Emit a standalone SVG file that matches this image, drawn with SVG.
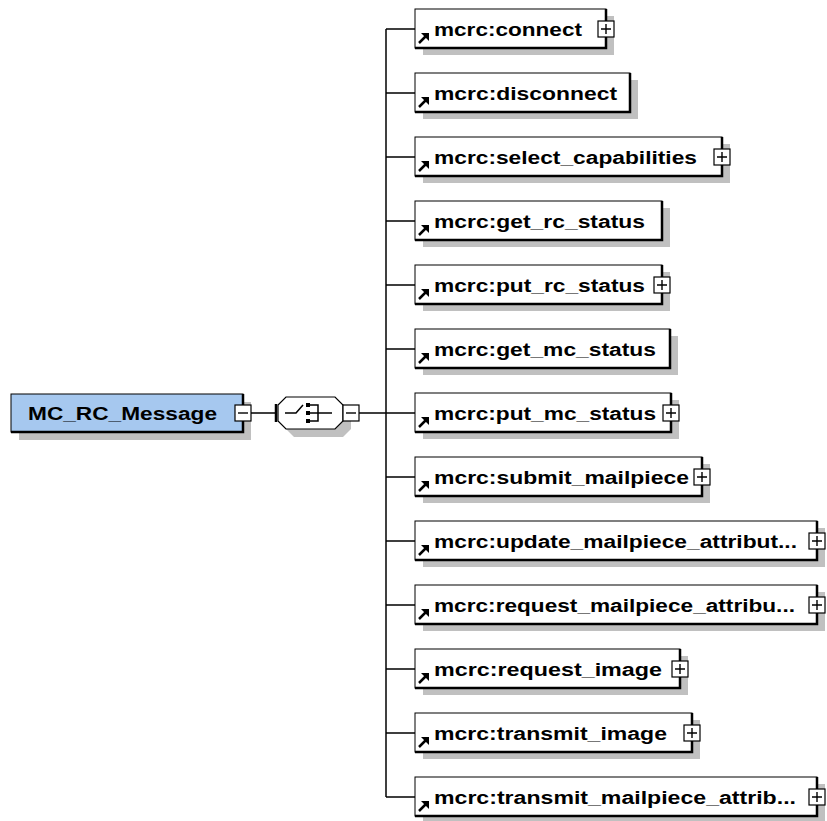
<svg xmlns="http://www.w3.org/2000/svg" width="827" height="821" viewBox="0 0 827 821">
<style>
.shadow{fill:#c0c0c0;stroke:none}
.box{fill:#ffffff;stroke:#000;stroke-width:1}
.root{fill:#a6c8ef;stroke:#000;stroke-width:1}
.edge{stroke:#000;stroke-width:2.5;fill:none}
.line{stroke:#000;stroke-width:1.5;fill:none}
.lbl{font-family:"Liberation Sans",Arial,sans-serif;font-weight:bold;font-size:18px;fill:#000}
.pm{fill:#fff;stroke:#000;stroke-width:1.2}
.pml{stroke:#000;stroke-width:1.4;fill:none}
.arr{stroke:#000;stroke-width:2.5;fill:none}
</style>
<defs>
<g id="ico">
<path class="arr" d="M419,14 L426,7"/>
<polygon points="421,4 429,4 429,12" fill="#000"/>
</g>
<g id="plus">
<rect class="pm" x="-8" y="-8" width="16" height="16"/>
<path class="pml" d="M-5,0 H5 M0,-5 V5"/>
</g>
</defs>

<g id="connectors">
<path class="line" d="M386,29 V797"/>
<path class="line" d="M386,29 H415 M386,93 H415 M386,157 H415 M386,221 H415 M386,285 H415 M386,349 H415 M386,413 H415 M386,477 H415 M386,541 H415 M386,605 H415 M386,669 H415 M386,733 H415 M386,797 H415"/>
<path class="line" d="M251,413 H276 M359,413 H386"/>
</g>

<g id="MC_RC_Message">
<rect class="shadow" x="19" y="402" width="232" height="38"/>
<rect class="root" x="11" y="394" width="232" height="38"/>
<path class="edge" d="M243,394 V432 H11"/>
<text class="lbl" x="28" y="420" textLength="189" lengthAdjust="spacingAndGlyphs">MC_RC_Message</text>
<rect class="pm" x="235" y="405" width="16" height="16"/>
<path class="pml" d="M238,413 H248"/>
</g>

<g id="sequence">
<polygon class="shadow" points="294,405 343,405 351,413 351,429 343,437 294,437 286,429 286,413"/>
<polygon fill="#fff" stroke="#000" stroke-width="1.2" points="286,397 335,397 343,405 343,421 335,429 286,429 278,421 278,405"/>
<path d="M276,404 V422" stroke="#000" stroke-width="2.5"/>
<path class="line" d="M285,413 H296 L303,405"/>
<rect x="306" y="403" width="4" height="4" fill="#000"/>
<rect x="306" y="411" width="4" height="4" fill="#000"/>
<rect x="306" y="419" width="4" height="4" fill="#000"/>
<path class="line" d="M310,405 H318 V421 H310 M310,413 H332"/>
<rect class="pm" x="343" y="405" width="16" height="16"/>
<path class="pml" d="M346,413 H356"/>
</g>

<g id="connect" transform="translate(0,29)">
<rect class="shadow" x="423" y="-13" width="191" height="39"/>
<rect class="box" x="415" y="-20" width="191" height="39"/>
<path class="edge" d="M606,-20 V19 H415"/>
<use href="#ico"/>
<text class="lbl" x="434" y="7" textLength="148" lengthAdjust="spacingAndGlyphs">mcrc:connect</text>
<use href="#plus" x="606" y="0"/>
</g>

<g id="disconnect" transform="translate(0,93)">
<rect class="shadow" x="423" y="-13" width="215" height="39"/>
<rect class="box" x="415" y="-20" width="215" height="39"/>
<path class="edge" d="M630,-20 V19 H415"/>
<use href="#ico"/>
<text class="lbl" x="434" y="7" textLength="183" lengthAdjust="spacingAndGlyphs">mcrc:disconnect</text>
</g>

<g id="select_capabilities" transform="translate(0,157)">
<rect class="shadow" x="423" y="-13" width="307" height="39"/>
<rect class="box" x="415" y="-20" width="307" height="39"/>
<path class="edge" d="M722,-20 V19 H415"/>
<use href="#ico"/>
<text class="lbl" x="434" y="7" textLength="263" lengthAdjust="spacingAndGlyphs">mcrc:select_capabilities</text>
<use href="#plus" x="722" y="0"/>
</g>

<g id="get_rc_status" transform="translate(0,221)">
<rect class="shadow" x="423" y="-13" width="247" height="39"/>
<rect class="box" x="415" y="-20" width="247" height="39"/>
<path class="edge" d="M662,-20 V19 H415"/>
<use href="#ico"/>
<text class="lbl" x="434" y="7" textLength="211" lengthAdjust="spacingAndGlyphs">mcrc:get_rc_status</text>
</g>

<g id="put_rc_status" transform="translate(0,285)">
<rect class="shadow" x="423" y="-13" width="247" height="39"/>
<rect class="box" x="415" y="-20" width="247" height="39"/>
<path class="edge" d="M662,-20 V19 H415"/>
<use href="#ico"/>
<text class="lbl" x="434" y="7" textLength="211" lengthAdjust="spacingAndGlyphs">mcrc:put_rc_status</text>
<use href="#plus" x="662" y="0"/>
</g>

<g id="get_mc_status" transform="translate(0,349)">
<rect class="shadow" x="423" y="-13" width="255" height="39"/>
<rect class="box" x="415" y="-20" width="255" height="39"/>
<path class="edge" d="M670,-20 V19 H415"/>
<use href="#ico"/>
<text class="lbl" x="434" y="7" textLength="222" lengthAdjust="spacingAndGlyphs">mcrc:get_mc_status</text>
</g>

<g id="put_mc_status" transform="translate(0,413)">
<rect class="shadow" x="423" y="-13" width="256" height="39"/>
<rect class="box" x="415" y="-20" width="256" height="39"/>
<path class="edge" d="M671,-20 V19 H415"/>
<use href="#ico"/>
<text class="lbl" x="434" y="7" textLength="222" lengthAdjust="spacingAndGlyphs">mcrc:put_mc_status</text>
<use href="#plus" x="671" y="0"/>
</g>

<g id="submit_mailpiece" transform="translate(0,477)">
<rect class="shadow" x="423" y="-13" width="287" height="39"/>
<rect class="box" x="415" y="-20" width="287" height="39"/>
<path class="edge" d="M702,-20 V19 H415"/>
<use href="#ico"/>
<text class="lbl" x="434" y="7" textLength="255" lengthAdjust="spacingAndGlyphs">mcrc:submit_mailpiece</text>
<use href="#plus" x="702" y="0"/>
</g>

<g id="update_mailpiece_attributes" transform="translate(0,541)">
<rect class="shadow" x="423" y="-13" width="402" height="39"/>
<rect class="box" x="415" y="-20" width="402" height="39"/>
<path class="edge" d="M817,-20 V19 H415"/>
<use href="#ico"/>
<text class="lbl" x="434" y="7" textLength="363" lengthAdjust="spacingAndGlyphs">mcrc:update_mailpiece_attribut...</text>
<use href="#plus" x="817" y="0"/>
</g>

<g id="request_mailpiece_attributes" transform="translate(0,605)">
<rect class="shadow" x="423" y="-13" width="402" height="39"/>
<rect class="box" x="415" y="-20" width="402" height="39"/>
<path class="edge" d="M817,-20 V19 H415"/>
<use href="#ico"/>
<text class="lbl" x="434" y="7" textLength="361" lengthAdjust="spacingAndGlyphs">mcrc:request_mailpiece_attribu...</text>
<use href="#plus" x="817" y="0"/>
</g>

<g id="request_image" transform="translate(0,669)">
<rect class="shadow" x="423" y="-13" width="265" height="39"/>
<rect class="box" x="415" y="-20" width="265" height="39"/>
<path class="edge" d="M680,-20 V19 H415"/>
<use href="#ico"/>
<text class="lbl" x="434" y="7" textLength="228" lengthAdjust="spacingAndGlyphs">mcrc:request_image</text>
<use href="#plus" x="680" y="0"/>
</g>

<g id="transmit_image" transform="translate(0,733)">
<rect class="shadow" x="423" y="-13" width="277" height="39"/>
<rect class="box" x="415" y="-20" width="277" height="39"/>
<path class="edge" d="M692,-20 V19 H415"/>
<use href="#ico"/>
<text class="lbl" x="434" y="7" textLength="233" lengthAdjust="spacingAndGlyphs">mcrc:transmit_image</text>
<use href="#plus" x="692" y="0"/>
</g>

<g id="transmit_mailpiece_attributes" transform="translate(0,797)">
<rect class="shadow" x="423" y="-13" width="402" height="39"/>
<rect class="box" x="415" y="-20" width="402" height="39"/>
<path class="edge" d="M817,-20 V19 H415"/>
<use href="#ico"/>
<text class="lbl" x="434" y="7" textLength="362" lengthAdjust="spacingAndGlyphs">mcrc:transmit_mailpiece_attrib...</text>
<use href="#plus" x="817" y="0"/>
</g>
</svg>
